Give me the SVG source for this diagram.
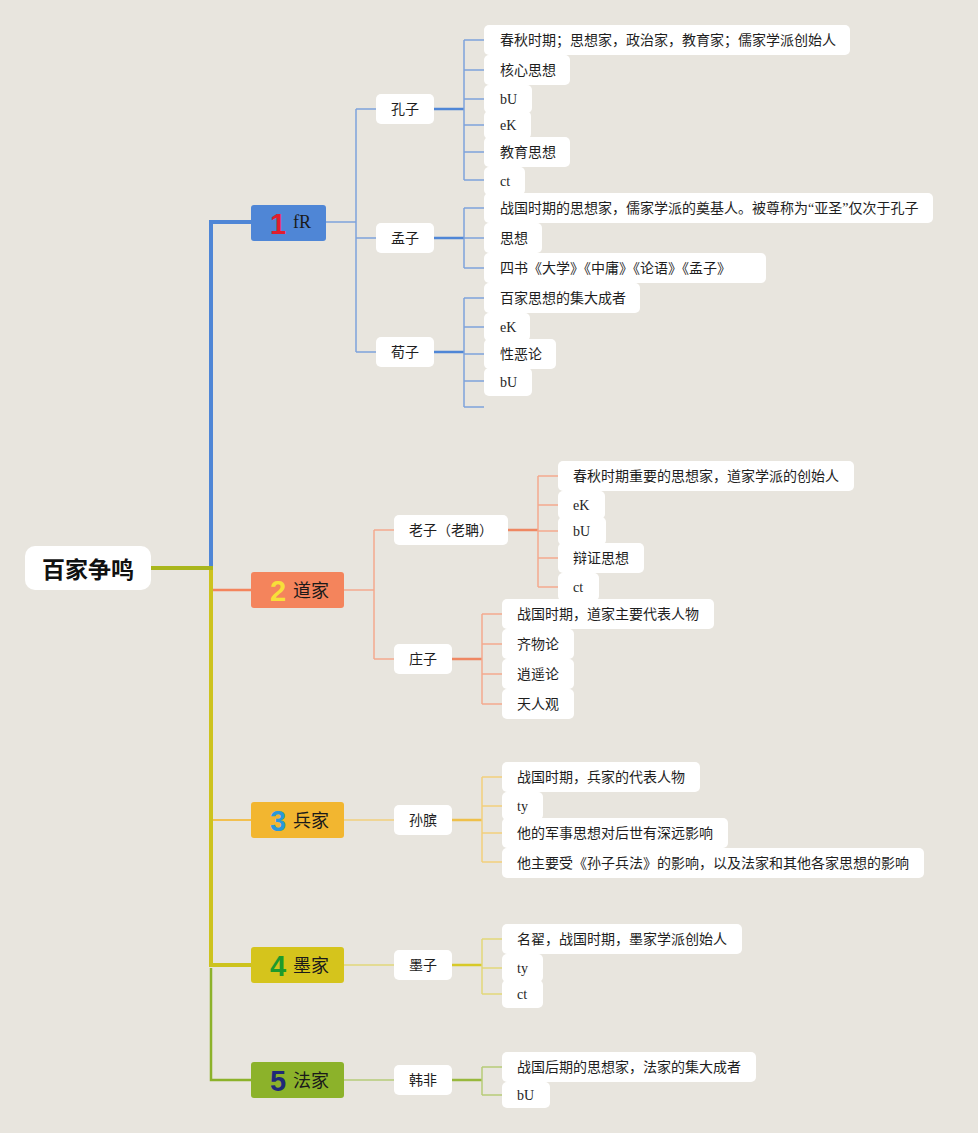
<svg xmlns="http://www.w3.org/2000/svg" width="978" height="1133" viewBox="0 0 978 1133">
<style>
.t{font-family:"Liberation Serif","Noto Sans CJK SC",sans-serif;font-size:14px;fill:#1e1e1e}
.l1{font-family:"Liberation Serif","Noto Sans CJK SC",sans-serif;font-size:18px;fill:#1a1a1a}
.num{font-family:"Liberation Sans","DejaVu Sans",sans-serif;font-size:29px;font-weight:bold}
.root{font-family:"Noto Sans CJK SC",sans-serif;font-size:23px;font-weight:bold;fill:#111}
.n{fill:#ffffff}
.c{fill:none;stroke-linejoin:miter}
.bt{stroke:#7ea2dc;stroke-width:1.5}
.bT{stroke:#4f86d6;stroke-width:2.5}
.ot{stroke:#f3a98e;stroke-width:1.5}
.oT{stroke:#ef8762;stroke-width:2.5}
.yt{stroke:#f2cf7c;stroke-width:1.5}
.yT{stroke:#efc04a;stroke-width:2.5}
.mt{stroke:#e2d77a;stroke-width:1.5}
.mT{stroke:#d7c928;stroke-width:2.5}
.gt{stroke:#b6cb78;stroke-width:1.5}
.gT{stroke:#98b83c;stroke-width:2.5}
</style>
<rect x="0" y="0" width="978" height="1133" fill="#e8e5de"/>

<g id="connectors">
  <!-- trunk -->
  <path class="c" d="M211 968 V1080 H251" stroke="#8cb22a" stroke-width="2.5"/>
  <path class="c" d="M211 568 V965 H251" stroke="#cdc31e" stroke-width="4"/>
  <path class="c" d="M211 568 V222 H251" stroke="#4f86d6" stroke-width="4"/>
  <path class="c" d="M151 568 H213" stroke="#a9b61c" stroke-width="4"/>
  <path class="c" d="M213 590 H251" stroke="#f4845c" stroke-width="2.5"/>
  <path class="c" d="M213 820 H251" stroke="#f2c050" stroke-width="2"/>

  <!-- 儒家 -->
  <path class="c bt" d="M326 222 H356 M356 109 V352 M356 109 H376 M356 238 H376 M356 352 H376"/>
  <path class="c bT" d="M434 109 H464"/>
  <path class="c bt" d="M464 40 V180 M464 40 H484 M464 70 H484 M464 99 H484 M464 125 H484 M464 152 H484 M464 180 H484"/>
  <path class="c bT" d="M434 238 H464"/>
  <path class="c bt" d="M464 208 V268 M464 208 H484 M464 238 H484 M464 268 H484"/>
  <path class="c bT" d="M434 352 H464"/>
  <path class="c bt" d="M464 298 V407 M464 298 H484 M464 327 H484 M464 354 H484 M464 381 H484 M464 407 H484"/>

  <!-- 道家 -->
  <path class="c ot" d="M344 590 H374 M374 530 V659 M374 530 H394 M374 659 H394"/>
  <path class="c oT" d="M508 530 H538"/>
  <path class="c ot" d="M538 476 V587 M538 476 H558 M538 505 H558 M538 531 H558 M538 558 H558 M538 587 H558"/>
  <path class="c oT" d="M452 659 H482"/>
  <path class="c ot" d="M482 614 V704 M482 614 H502 M482 644 H502 M482 674 H502 M482 704 H502"/>

  <!-- 兵家 -->
  <path class="c yt" d="M344 820 H394"/>
  <path class="c yT" d="M452 820 H482"/>
  <path class="c yt" d="M482 777 V862 M482 777 H502 M482 806 H502 M482 833 H502 M482 862 H502"/>

  <!-- 墨家 -->
  <path class="c mt" d="M344 965 H394"/>
  <path class="c mT" d="M452 965 H482"/>
  <path class="c mt" d="M482 939 V994 M482 939 H502 M482 968 H502 M482 994 H502"/>

  <!-- 法家 -->
  <path class="c gt" d="M344 1080 H394"/>
  <path class="c gT" d="M452 1080 H482"/>
  <path class="c gt" d="M482 1067 V1095 M482 1067 H502 M482 1095 H502"/>
</g>

<g id="root">
  <rect x="25" y="546" width="126" height="44" rx="10" class="n"/>
  <text x="88" y="578" text-anchor="middle" class="root">百家争鸣</text>
</g>

<g id="b1">
  <rect x="251" y="205" width="75" height="36" rx="3" fill="#4f86d6"/>
  <text x="278" y="234" text-anchor="middle" class="num" fill="#e11d2e">1</text>
  <text x="293" y="228" class="l1">fR</text>
</g>
<g id="b2">
  <rect x="251" y="572" width="93" height="36" rx="3" fill="#f4845c"/>
  <text x="278" y="601" text-anchor="middle" class="num" fill="#f7df3a">2</text>
  <text x="293" y="597" class="l1">道家</text>
</g>
<g id="b3">
  <rect x="251" y="802" width="93" height="36" rx="3" fill="#f2b630"/>
  <text x="278" y="831" text-anchor="middle" class="num" fill="#2a98d8">3</text>
  <text x="293" y="827" class="l1">兵家</text>
</g>
<g id="b4">
  <rect x="251" y="947" width="93" height="36" rx="3" fill="#d5c41c"/>
  <text x="278" y="976" text-anchor="middle" class="num" fill="#1e9a2c">4</text>
  <text x="293" y="972" class="l1">墨家</text>
</g>
<g id="b5">
  <rect x="251" y="1062" width="93" height="36" rx="3" fill="#8cb22a"/>
  <text x="278" y="1091" text-anchor="middle" class="num" fill="#1f2a78">5</text>
  <text x="293" y="1087" class="l1">法家</text>
</g>

<!-- level 2 -->
<g id="kongzi"><rect x="376" y="94" width="58" height="30" rx="5" class="n"/><text x="391" y="114" class="t">孔子</text></g>
<g id="mengzi"><rect x="376" y="223" width="58" height="30" rx="5" class="n"/><text x="391" y="243" class="t">孟子</text></g>
<g id="xunzi"><rect x="376" y="337" width="58" height="30" rx="5" class="n"/><text x="391" y="357" class="t">荀子</text></g>
<g id="laozi"><rect x="394" y="515" width="114" height="30" rx="5" class="n"/><text x="409" y="535" class="t">老子（老聃）</text></g>
<g id="zhuangzi"><rect x="394" y="644" width="58" height="30" rx="5" class="n"/><text x="409" y="664" class="t">庄子</text></g>
<g id="sunbin"><rect x="394" y="805" width="58" height="30" rx="5" class="n"/><text x="409" y="825" class="t">孙膑</text></g>
<g id="mozi"><rect x="394" y="950" width="58" height="30" rx="5" class="n"/><text x="409" y="970" class="t">墨子</text></g>
<g id="hanfei"><rect x="394" y="1065" width="58" height="30" rx="5" class="n"/><text x="409" y="1085" class="t">韩非</text></g>

<!-- 孔子 children -->
<g id="k1"><rect x="484" y="25" width="366" height="30" rx="5" class="n"/><text x="500" y="45" class="t">春秋时期；思想家，政治家，教育家；儒家学派创始人</text></g>
<g id="k2"><rect x="484" y="55" width="86" height="30" rx="5" class="n"/><text x="500" y="75" class="t">核心思想</text></g>
<g id="k3"><rect x="484" y="85" width="48" height="28" rx="5" class="n"/><text x="500" y="104" class="t">bU</text></g>
<g id="k4"><rect x="484" y="111" width="47" height="28" rx="5" class="n"/><text x="500" y="130" class="t">eK</text></g>
<g id="k5"><rect x="484" y="137" width="86" height="30" rx="5" class="n"/><text x="500" y="157" class="t">教育思想</text></g>
<g id="k6"><rect x="484" y="167" width="41" height="28" rx="5" class="n"/><text x="500" y="186" class="t">ct</text></g>

<!-- 孟子 children -->
<g id="m1"><rect x="484" y="193" width="449" height="30" rx="5" class="n"/><text x="500" y="213" class="t">战国时期的思想家，儒家学派的奠基人。被尊称为“亚圣”仅次于孔子</text></g>
<g id="m2"><rect x="484" y="223" width="58" height="30" rx="5" class="n"/><text x="500" y="243" class="t">思想</text></g>
<g id="m3"><rect x="484" y="253" width="282" height="30" rx="5" class="n"/><text x="500" y="273" class="t">四书《大学》《中庸》《论语》《孟子》</text></g>

<!-- 荀子 children -->
<g id="x1"><rect x="484" y="283" width="156" height="30" rx="5" class="n"/><text x="500" y="303" class="t">百家思想的集大成者</text></g>
<g id="x2"><rect x="484" y="313" width="46" height="28" rx="5" class="n"/><text x="500" y="332" class="t">eK</text></g>
<g id="x3"><rect x="484" y="339" width="72" height="30" rx="5" class="n"/><text x="500" y="359" class="t">性恶论</text></g>
<g id="x4"><rect x="484" y="368" width="48" height="28" rx="5" class="n"/><text x="500" y="387" class="t">bU</text></g>

<!-- 老子 children -->
<g id="l1"><rect x="558" y="461" width="296" height="30" rx="5" class="n"/><text x="573" y="481" class="t">春秋时期重要的思想家，道家学派的创始人</text></g>
<g id="l2"><rect x="558" y="491" width="47" height="28" rx="5" class="n"/><text x="573" y="510" class="t">eK</text></g>
<g id="l3"><rect x="558" y="517" width="48" height="28" rx="5" class="n"/><text x="573" y="536" class="t">bU</text></g>
<g id="l4"><rect x="558" y="543" width="86" height="30" rx="5" class="n"/><text x="573" y="563" class="t">辩证思想</text></g>
<g id="l5"><rect x="558" y="573" width="41" height="28" rx="5" class="n"/><text x="573" y="592" class="t">ct</text></g>

<!-- 庄子 children -->
<g id="z1"><rect x="502" y="599" width="212" height="30" rx="5" class="n"/><text x="517" y="619" class="t">战国时期，道家主要代表人物</text></g>
<g id="z2"><rect x="502" y="629" width="72" height="30" rx="5" class="n"/><text x="517" y="649" class="t">齐物论</text></g>
<g id="z3"><rect x="502" y="659" width="72" height="30" rx="5" class="n"/><text x="517" y="679" class="t">逍遥论</text></g>
<g id="z4"><rect x="502" y="689" width="72" height="30" rx="5" class="n"/><text x="517" y="709" class="t">天人观</text></g>

<!-- 孙膑 children -->
<g id="s1"><rect x="502" y="762" width="198" height="30" rx="5" class="n"/><text x="517" y="782" class="t">战国时期，兵家的代表人物</text></g>
<g id="s2"><rect x="502" y="792" width="41" height="28" rx="5" class="n"/><text x="517" y="811" class="t">ty</text></g>
<g id="s3"><rect x="502" y="818" width="226" height="30" rx="5" class="n"/><text x="517" y="838" class="t">他的军事思想对后世有深远影响</text></g>
<g id="s4"><rect x="502" y="848" width="422" height="30" rx="5" class="n"/><text x="517" y="868" class="t">他主要受《孙子兵法》的影响，以及法家和其他各家思想的影响</text></g>

<!-- 墨子 children -->
<g id="o1"><rect x="502" y="924" width="240" height="30" rx="5" class="n"/><text x="517" y="944" class="t">名翟，战国时期，墨家学派创始人</text></g>
<g id="o2"><rect x="502" y="954" width="41" height="28" rx="5" class="n"/><text x="517" y="973" class="t">ty</text></g>
<g id="o3"><rect x="502" y="980" width="41" height="28" rx="5" class="n"/><text x="517" y="999" class="t">ct</text></g>

<!-- 韩非 children -->
<g id="h1"><rect x="502" y="1052" width="254" height="30" rx="5" class="n"/><text x="517" y="1072" class="t">战国后期的思想家，法家的集大成者</text></g>
<g id="h2"><rect x="502" y="1082" width="48" height="26" rx="5" class="n"/><text x="517" y="1100" class="t">bU</text></g>
</svg>
